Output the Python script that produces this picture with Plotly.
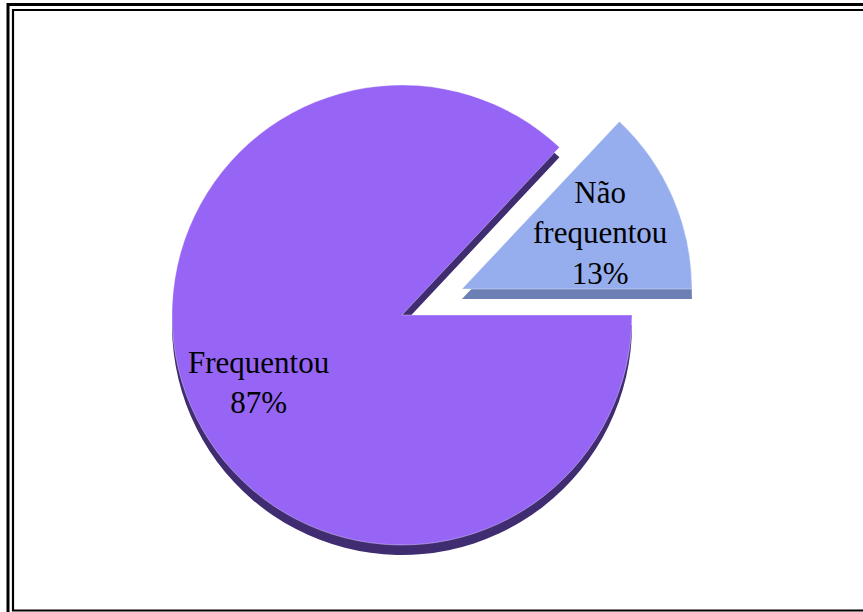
import math
import plotly.graph_objects as go

# Survey shares
labels = ["Não<br>frequentou", "Frequentou"]
values = [13, 87]
pulls = [0.284, 0]

top_colors = ["#97AEEE", "#9765F5"]
rim_colors = ["#6C80B6", "#402C70"]

W, H = 863, 612
R = 230               # pie radius in px
CX, CY = 402, 315     # pie centre in px (from top)
DEPTH = 10            # thickness of the extruded rim

total = sum(values)
first_span = values[0] / total * 360
# first slice runs from 3 o'clock up to its own angular span
ROTATION = 90 - first_span


def px_domain(cx, cy, half):
    """Plot-area domain for a pie centred at (cx, cy) px with a half-size box."""
    return dict(
        x=[(cx - half) / W, (cx + half) / W],
        y=[(H - cy - half) / H, (H - cy + half) / H],
    )


clear = "rgba(0,0,0,0)"
common = dict(
    values=values,
    labels=labels,
    sort=False,
    direction="counterclockwise",
    rotation=ROTATION,
    textinfo="none",
    hoverinfo="skip",
    showlegend=False,
)

fig = go.Figure()

# rim under the large slice
fig.add_trace(go.Pie(
    **common,
    domain=px_domain(CX, CY + DEPTH, R),
    marker=dict(colors=[clear, rim_colors[1]], line=dict(width=0)),
))

# rim under the detached slice (same offset as the pull of the top face)
mid = math.radians(first_span / 2)
off = pulls[0] * R
bx, by = CX + off * math.cos(mid), CY - off * math.sin(mid)
fig.add_trace(go.Pie(
    **common,
    domain=px_domain(bx, by + DEPTH, R),
    marker=dict(colors=[rim_colors[0], clear], line=dict(width=0)),
))

# top faces
fig.add_trace(go.Pie(
    **common,
    pull=pulls,
    domain=px_domain(CX, CY, R * (1 + max(pulls))),
    marker=dict(colors=top_colors, line=dict(color="rgba(255,255,255,0.35)", width=1)),
))

# slice labels
label_pos = [(600, 233), (258, 382)]
for lab, val, (lx, ly) in zip(labels, values, label_pos):
    fig.add_annotation(
        x=lx / W, y=1 - ly / H, xref="paper", yref="paper",
        text=f"{lab}<br>{round(val / total * 100)}%",
        showarrow=False, xanchor="center", yanchor="middle",
        font=dict(family="Liberation Serif", size=31, color="black"),
    )


# double frame around the chart area
def px_rect(x0, y0, x1, y1, w):
    return dict(type="rect", xref="paper", yref="paper",
                x0=x0 / W, x1=x1 / W, y0=1 - y0 / H, y1=1 - y1 / H,
                line=dict(color="black", width=w), fillcolor=clear, layer="above")


fig.update_layout(
    width=W, height=H,
    margin=dict(l=0, r=0, t=0, b=0),
    paper_bgcolor="white",
    plot_bgcolor="white",
    shapes=[
        px_rect(8, 4.6, W + 8, H + 8, 3),
        px_rect(13, 10, W + 3, 610.5, 2.2),
    ],
)

fig.write_html("out.html")
